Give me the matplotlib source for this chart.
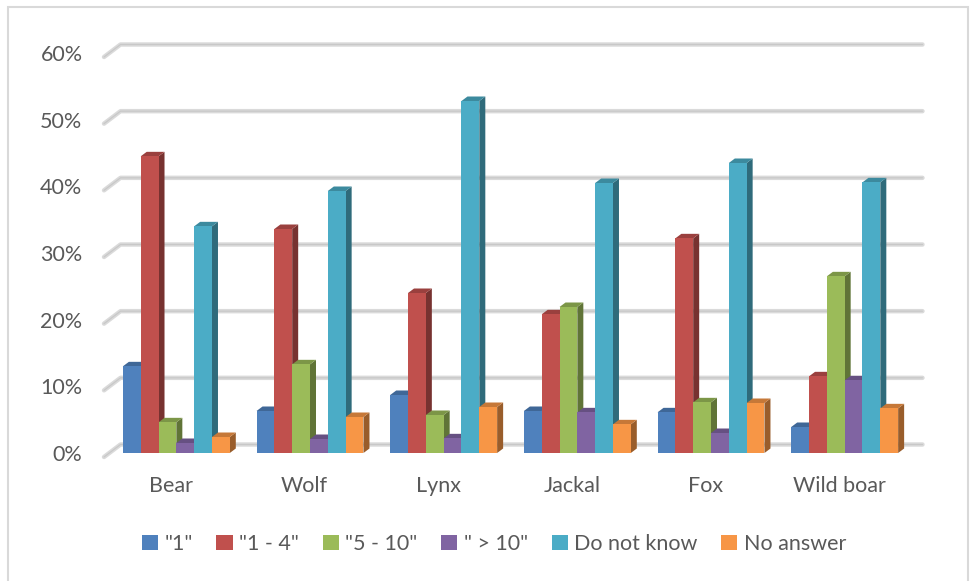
import matplotlib
matplotlib.use("Agg")
import matplotlib.pyplot as plt
from matplotlib.patches import Polygon, Rectangle, Patch
from matplotlib.transforms import ScaledTranslation
from matplotlib.colors import to_rgb

# ---- data -------------------------------------------------------------
categories = ["Bear", "Wolf", "Lynx", "Jackal", "Fox", "Wild boar"]
series_names = ['"1"', '"1 - 4"', '"5 - 10"', '" > 10"', "Do not know", "No answer"]
one = [13.0, 6.3, 8.7, 6.3, 6.1, 3.9]
one_to_four = [44.5, 33.6, 24.0, 20.8, 32.2, 11.5]
five_to_ten = [4.6, 13.3, 5.7, 21.9, 7.6, 26.5]
over_ten = [1.5, 2.1, 2.2, 6.1, 3.0, 10.9]
do_not_know = [34.0, 39.3, 52.8, 40.5, 43.5, 40.6]
no_answer = [2.4, 5.4, 6.9, 4.3, 7.5, 6.7]
series = [one, one_to_four, five_to_ten, over_ten, do_not_know, no_answer]
y_ticks = [0, 10, 20, 30, 40, 50, 60]

colors = ["#4F81BD", "#C0504D", "#9BBB59", "#8064A2", "#4BACC6", "#F79646"]

# ---- figure / axes ----------------------------------------------------
W, H, DPI = 975, 581, 100
fig = plt.figure(figsize=(W / DPI, H / DPI), dpi=DPI)
fig.patch.set_facecolor("white")

ax_left, ax_right = 109.5, 911.5
ax_bottom, ax_top = 453, 53
ax = fig.add_axes([ax_left / W, (H - ax_bottom) / H,
                   (ax_right - ax_left) / W, (ax_bottom - ax_top) / H])
ax.set_xlim(-0.5, len(categories) - 0.5)
ax.set_ylim(0, 60)
ax.axis("off")

px_x = (ax_right - ax_left) / len(categories)   # pixels per category unit
px_y = (ax_bottom - ax_top) / 60.0               # pixels per percent


def ux(p):
    return p / px_x


def uy(p):
    return p / px_y


# ---- back wall gridlines with the diagonal to the front edge -----------
back_dx, back_dy = ux(11), uy(8.5)
front_dx, front_dy = ux(-5.5), uy(-4)
x_lo, x_hi = -0.5, len(categories) - 0.5
for t in y_ticks:
    xs = [x_lo + front_dx, x_lo + back_dx, x_hi + back_dx]
    ys = [t + front_dy, t + back_dy, t + back_dy]
    ax.plot(xs, ys, color="#dadada", lw=3.2, solid_capstyle="round",
            solid_joinstyle="round", zorder=1, clip_on=False)
    ax.plot(xs, ys, color="#c8c8c8", lw=0.9, solid_capstyle="round",
            solid_joinstyle="round", zorder=1.1, clip_on=False)

# ---- 3D-looking clustered bars -----------------------------------------
n = len(series)
group_w = 0.8
bw = group_w / n
ddx, ddy = ux(6), uy(4.5)


def shade(c, f):
    r, g, b = to_rgb(c)
    return (r * f, g * f, b * f)


z = 2
for ci in range(len(categories)):
    for si, vals in enumerate(series):
        v = vals[ci]
        x0 = ci - group_w / 2 + si * bw
        x1 = x0 + bw
        col = colors[si]
        side = Polygon([(x1, 0), (x1 + ddx, ddy), (x1 + ddx, v + ddy), (x1, v)],
                       closed=True, facecolor=shade(col, 0.62), edgecolor="none",
                       zorder=z, clip_on=False)
        top = Polygon([(x0, v), (x1, v), (x1 + ddx, v + ddy), (x0 + ddx, v + ddy)],
                      closed=True, facecolor=shade(col, 0.8), edgecolor="none",
                      zorder=z, clip_on=False)
        ax.add_patch(side)
        ax.add_patch(top)
        ax.bar(x0, v, width=bw, align="edge", color=col, edgecolor="none",
               zorder=z + 0.5, clip_on=False)
        z += 1

# ---- axis labels ------------------------------------------------------
text_color = "#595959"
font = "Lato"
fs = 15.5

ylab_tr = ax.transData + ScaledTranslation(-27 / DPI, -2 / DPI, fig.dpi_scale_trans)
for t in y_ticks:
    ax.text(x_lo, t, f"{t}%", transform=ylab_tr, ha="right", va="center",
            fontsize=fs, color=text_color, family=font)

xlab_tr = ax.transData + ScaledTranslation(-5.5 / DPI, -33 / DPI, fig.dpi_scale_trans)
for ci, name in enumerate(categories):
    ax.text(ci, 0, name, transform=xlab_tr, ha="center", va="center",
            fontsize=fs, color=text_color, family=font)

# ---- legend -----------------------------------------------------------
handles = [Patch(facecolor=c, edgecolor="none") for c in colors]
fig.legend(handles, series_names, loc="center", ncol=6,
           bbox_to_anchor=(494 / W, 1 - 544 / H), frameon=False,
           handlelength=0.75, handleheight=0.75, handletextpad=0.3,
           columnspacing=1.1, labelcolor=text_color,
           prop={"family": font, "size": fs})

# ---- chart area border ------------------------------------------------
fig.patches.append(Rectangle((8 / W, -0.01), (968 - 8) / W, 1.01 - 7 / H,
                             transform=fig.transFigure, fill=False,
                             edgecolor="#d9d9d9", lw=1.5))

fig.savefig("out.png", dpi=DPI, facecolor="white")
